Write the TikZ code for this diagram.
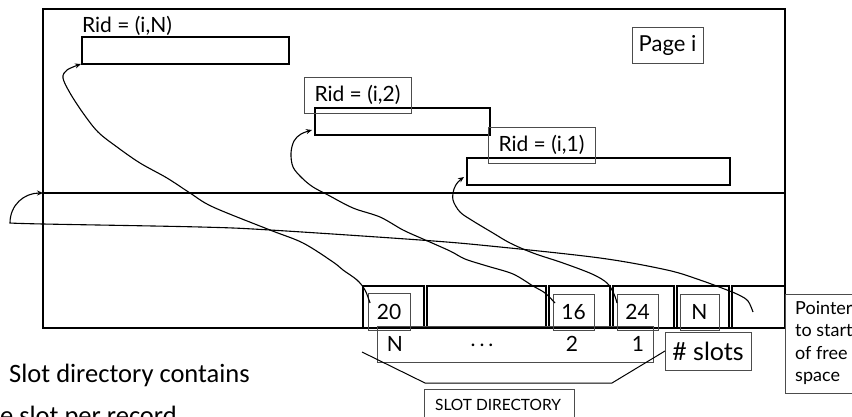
\documentclass[tikz,border=0pt]{standalone}
\usepackage{fontspec}
\setmainfont{Lato}
\newfontfamily\calibfont{Carlito}
\usetikzlibrary{arrows.meta}
\newcommand{\fsz}[1]{\fontsize{#1}{#1}\selectfont}
\begin{document}
\begin{tikzpicture}[x=1pt,y=-1pt,
  box/.style={draw, inner sep=0pt, outer sep=0pt, anchor=north west},
  rec/.style={box, line width=1.3pt},
  lab/.style={box, draw=black!70, line width=0.9pt, font=\fsz{21}},
  cell/.style={box, line width=1.5pt, minimum height=42pt},
  txt/.style={inner sep=0pt, font=\fsz{21}},
  conn/.style={line width=1.1pt, -{Stealth[length=6pt,width=5pt]}},
]
\useasboundingbox (0,0) rectangle (852,417);
\clip (0,0) rectangle (852,417);

% page
\node[box, line width=1.5pt, minimum width=742pt, minimum height=135pt] (lower) at (43,193) {};
\node[box, line width=2.6pt, minimum width=742pt, minimum height=184pt] (upper) at (43,9) {};

% records
\node[rec, minimum width=207pt, minimum height=27pt] (recN) at (82,37) {};
\node[rec, minimum width=175pt, minimum height=27pt] (rec2) at (315,108) {};
\node[rec, minimum width=263pt, minimum height=27pt] (rec1) at (467,158) {};

% labels
\node[txt] (ridN) at (127,26) {Rid = (i,N)};
\node[lab, minimum width=107pt, minimum height=36pt] (rid2) at (304,77) {Rid = (i,2)};
\node[lab, minimum width=107pt, minimum height=36pt] (rid1) at (488,127) {Rid = (i,1)};
\node[lab, minimum width=71pt, minimum height=36pt, font=\fsz{22}] (page) at (632,27) {Page i};

% slot cells
\node[cell, minimum width=61pt]  (c1) at (363,286) {};
\node[cell, minimum width=119pt] (c2) at (427,286) {};
\node[cell, minimum width=61pt]  (c3) at (549,286) {};
\node[cell, minimum width=61pt]  (c4) at (613,286) {};
\node[cell, minimum width=52pt]  (c5) at (677,286) {};
\node[cell, minimum width=53pt]  (c6) at (732,286) {};

% index row
\node[lab, minimum width=276pt, minimum height=36pt] (idx) at (377,326) {};
\node[txt] (iN) at (395,344) {N};
\node[txt] (idots) at (482,345) {.\hspace{4pt}.\hspace{4pt}.};
\node[txt] (i2) at (572,344) {2};
\node[txt] (i1) at (638,344) {1};

% value boxes
\node[lab, minimum width=42pt, minimum height=37pt] (v20) at (368,293) {20};
\node[lab, minimum width=41pt, minimum height=36pt] (v16) at (553,294) {16};
\node[lab, minimum width=41pt, minimum height=36pt] (v24) at (617,294) {24};
\node[lab, minimum width=39pt, minimum height=36pt] (vN) at (680,294) {N};

% # slots
\node[lab, minimum width=86pt, minimum height=38pt, font=\fsz{25}] (slots) at (665,332) {\# slots};

% pointer to free space
\node[lab, minimum width=80pt, minimum height=99pt] (ptr) at (785,294) {};
\node[anchor=north west, inner sep=0pt, align=left, font=\fontsize{18}{22.5}\selectfont] (ptrtxt) at (795,301) {Pointer\\to start\\of free\\space};

% slot directory brace and label
\coordinate (brL) at (362,352);
\draw[line width=1pt] (brL) -- (425,383) -- (612,383) -- (slots.west);
\node[lab, minimum width=150pt, minimum height=40pt] (sd) at (424,389) {};
\node[inner sep=0pt, font=\fsz{15.5}] (sdtxt) at (498,405) {SLOT DIRECTORY};

% bottom text
\node[anchor=base west, inner sep=0pt, font=\calibfont\fsz{26.5}] (sdc) at (9,382) {Slot directory contains};
\node[anchor=base west, inner sep=0pt, font=\calibfont\fsz{26.5}] (osr) at (-28,424) {one slot per record};

% connectors
\coordinate (s20) at (370,303);
\coordinate (s16) at (555,303);
\coordinate (s24) at (617,303);
\coordinate (s6) at (753,312);
\coordinate (tN) at (81,64);
\coordinate (t2) at (312,130);
\coordinate (t1) at (464,177);

\draw[conn] plot[smooth, tension=0.55] coordinates {(s20) (365,290) (357,280) (343,270) (333,262) (303,243) (270,230) (213,207) (190,193) (167,178) (140,163) (117,147) (98,132) (83,113) (70,93) (63,78) (67,70) (tN)};
\draw[conn] plot[smooth, tension=0.55] coordinates {(s16) (545,293) (533,286) (513,274) (487,266) (465,259) (450,251) (423,239) (403,230) (380,217) (353,208) (328,195) (313,187) (302,178) (293,167) (291,153) (294,141) (301,134) (t2)};
\draw[conn] plot[smooth, tension=0.55] coordinates {(s24) (614,294) (607,283) (592,274) (563,263) (533,253) (510,243) (493,233) (473,221) (460,212) (453,200) (454,189) (458,182) (t1)};
\draw[conn] plot[smooth, tension=0.55] coordinates {(s6) (748,301) (739,295) (727,290) (700,280) (667,270) (600,258) (490,246) (420,240) (270,230) (200,227) (43,224) (10,223)} .. controls (10,205) and (24,193) .. (lower.north west);
\end{tikzpicture}
\end{document}
